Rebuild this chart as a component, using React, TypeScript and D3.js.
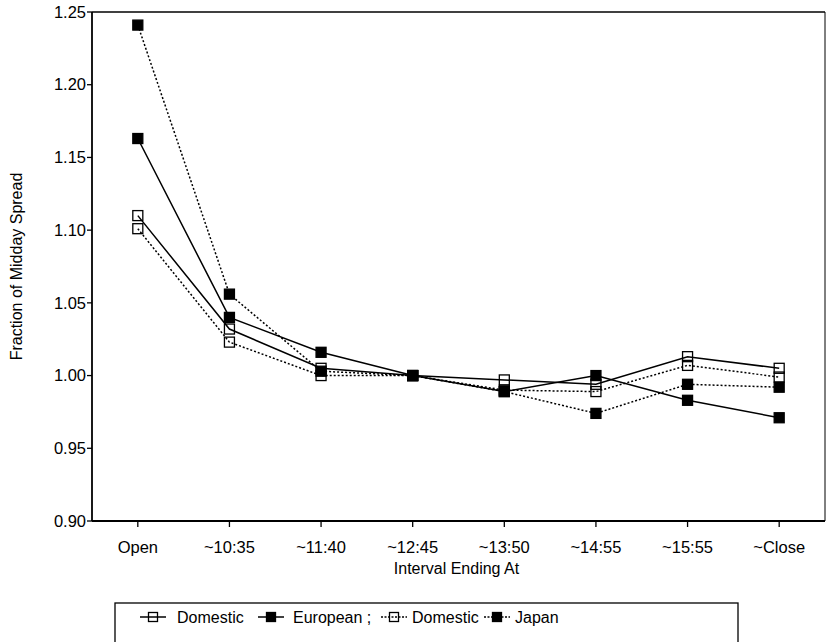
import * as d3 from "d3";

const W = 826;
const H = 642;

const categories = ["Open", "~10:35", "~11:40", "~12:45", "~13:50", "~14:55", "~15:55", "~Close"];
const yTicks = [0.9, 0.95, 1.0, 1.05, 1.1, 1.15, 1.2, 1.25];

const domesticEu = [1.11, 1.032, 1.005, 1.0, 0.997, 0.994, 1.013, 1.005];
const european = [1.163, 1.04, 1.016, 1.0, 0.989, 1.0, 0.983, 0.971];
const domesticJp = [1.101, 1.023, 1.0, 1.0, 0.99, 0.989, 1.007, 0.999];
const japan = [1.241, 1.056, 1.003, 1.0, 0.989, 0.974, 0.994, 0.992];

const seriesNames = ["Domestic", "European ;", "Domestic", "Japan"];

const FONT = "'Liberation Sans', Arial, Helvetica, sans-serif";

const M = { left: 92, top: 12, right: 825, bottom: 521 };

type Series = { name: string; values: number[]; filled: boolean; dashed: boolean };

const series: Series[] = [
	{ name: seriesNames[0], values: domesticEu, filled: false, dashed: false },
	{ name: seriesNames[1], values: european, filled: true, dashed: false },
	{ name: seriesNames[2], values: domesticJp, filled: false, dashed: true },
	{ name: seriesNames[3], values: japan, filled: true, dashed: true },
];

function Marker({ x, y, filled, size = 10 }: { x: number; y: number; filled: boolean; size?: number }) {
	return (
		<rect
			x={x - size / 2}
			y={y - size / 2}
			width={size}
			height={size}
			fill={filled ? "#000" : "none"}
			stroke="#000"
			strokeWidth={1.3}
		/>
	);
}

export default function App() {
	const x = d3.scalePoint<string>().domain(categories).range([M.left, M.right]).padding(0.5);
	const y = d3.scaleLinear().domain([0.9, 1.25]).range([M.bottom, M.top]);

	const line = d3
		.line<number>()
		.x((_, i) => x(categories[i]) as number)
		.y((d) => y(d));

	// legend layout
	const legX = [140, 258, 381, 484];
	const legTextX = [177, 293, 412, 515];
	const legY = 617;

	return (
		<svg
			width={W}
			height={H}
			viewBox={`0 0 ${W} ${H}`}
			style={{ position: "absolute", left: 0, top: 0, background: "#fff" }}
			fontFamily={FONT}
		>
			<rect x={0} y={0} width={W} height={H} fill="#fff" />

			{/* frame */}
			<line x1={M.left} x2={M.right} y1={M.top} y2={M.top} stroke="#000" strokeWidth={1.5} />
			<line x1={M.right} x2={M.right} y1={M.top} y2={M.bottom} stroke="#000" strokeWidth={1} />
			<line x1={M.left} x2={M.left} y1={M.top} y2={M.bottom} stroke="#000" strokeWidth={1.8} />
			<line x1={M.left} x2={M.right} y1={M.bottom} y2={M.bottom} stroke="#000" strokeWidth={1.8} />

			{/* y axis */}
			{yTicks.map((t) => (
				<g key={t}>
					<line x1={M.left - 5} x2={M.left} y1={y(t)} y2={y(t)} stroke="#000" strokeWidth={1.3} />
					<text x={M.left - 6} y={y(t)} dy="0.35em" textAnchor="end" fontSize={16.5} fill="#000">
						{d3.format(".2f")(t)}
					</text>
				</g>
			))}
			<text
				transform={`translate(22,${(M.top + M.bottom) / 2}) rotate(-90)`}
				textAnchor="middle"
				fontSize={16}
				fill="#000"
			>
				Fraction of Midday Spread
			</text>

			{/* x axis */}
			{categories.map((c) => (
				<g key={c}>
					<line
						x1={x(c)}
						x2={x(c)}
						y1={M.bottom}
						y2={M.bottom + 6}
						stroke="#000"
						strokeWidth={1.3}
					/>
					<text x={x(c)} y={M.bottom + 32} textAnchor="middle" fontSize={16.5} fill="#000">
						{c}
					</text>
				</g>
			))}
			<text x={(M.left + M.right) / 2 - 2} y={M.bottom + 53} textAnchor="middle" fontSize={16} fill="#000">
				Interval Ending At
			</text>

			{/* lines */}
			{series.map((s, i) => (
				<path
					key={`l${i}`}
					d={line(s.values) ?? ""}
					fill="none"
					stroke="#000"
					strokeWidth={1.5}
					strokeDasharray={s.dashed ? "2,2" : undefined}
				/>
			))}
			{series.map((s, i) =>
				s.values.map((v, j) => (
					<Marker key={`m${i}-${j}`} x={x(categories[j]) as number} y={y(v)} filled={s.filled} />
				)),
			)}

			{/* legend */}
			<rect x={115} y={603} width={623} height={60} fill="#fff" stroke="#000" strokeWidth={1.3} />
			{series.map((s, i) => (
				<g key={`g${i}`}>
					<line
						x1={legX[i]}
						x2={legX[i] + 26}
						y1={legY}
						y2={legY}
						stroke="#000"
						strokeWidth={1.5}
						strokeDasharray={s.dashed ? "2,1.5" : undefined}
					/>
					<Marker x={legX[i] + 13} y={legY} filled={s.filled} size={9} />
					<text x={legTextX[i]} y={legY} dy="0.35em" fontSize={16} fill="#000">
						{s.name}
					</text>
				</g>
			))}
		</svg>
	);
}
